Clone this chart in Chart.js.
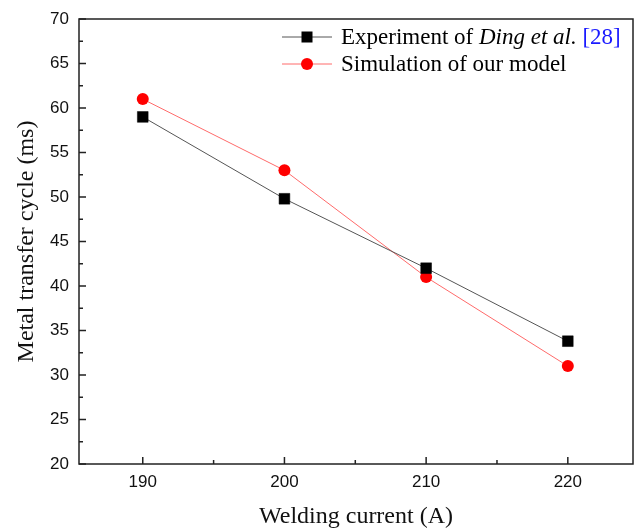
<!DOCTYPE html>
<html>
<head>
<meta charset="utf-8">
<script src="https://cdn.jsdelivr.net/npm/chart.js@4"></script>
<style>
  html, body { margin: 0; padding: 0; background: #fff; overflow: hidden; }
  #wrap { width: 636px; height: 531px; }
</style>
</head>
<body>
<div id="wrap"><canvas id="chart"></canvas></div>
<script>
// data
const currents = [190, 200, 210, 220];
const experiment = [59, 49.8, 42, 33.8];
const simulation = [61, 53, 41, 31];
const xTicks = [190, 200, 210, 220];
const yTicks = [20, 25, 30, 35, 40, 45, 50, 55, 60, 65, 70];

const serif = '"Liberation Serif", "Times New Roman", serif';
const sans = '"Liberation Sans", Arial, sans-serif';

function toPoints(ys){
    return currents.map((x, i) => ({x: x, y: ys[i]}));
}

//frame + inward ticks
const framePlugin = {
    id: 'frame',
    afterDraw(chart){
        const c = chart.ctx;
        const a = chart.chartArea;
        const xs = chart.scales.x;
        const ys = chart.scales.y;
        c.save();
        c.strokeStyle = '#222';
        c.lineWidth = 1.5;
        c.strokeRect(a.left, a.top, a.right - a.left, a.bottom - a.top);
        c.beginPath();
        for (let i = 0; i < xTicks.length; i++){
            let px = xs.getPixelForValue(xTicks[i]);
            c.moveTo(px, a.bottom); c.lineTo(px, a.bottom - 7);
            if (i < xTicks.length - 1){
                let mx = xs.getPixelForValue((xTicks[i] + xTicks[i+1]) / 2);
                c.moveTo(mx, a.bottom); c.lineTo(mx, a.bottom - 4);
            }
        }
        for (let i = 0; i < yTicks.length; i++){
            let py = ys.getPixelForValue(yTicks[i]);
            c.moveTo(a.left, py); c.lineTo(a.left + 7, py);
            if (i < yTicks.length - 1){
                let my = ys.getPixelForValue((yTicks[i] + yTicks[i+1]) / 2);
                c.moveTo(a.left, my); c.lineTo(a.left + 4, my);
            }
        }
        c.stroke();
        c.restore();
    }
};

//legend with mixed styles
const legendPlugin = {
    id: 'myLegend',
    afterDraw(chart){
        const c = chart.ctx;
        const rows = [
            {ds: 0, y: 37, parts: [
                {t: 'Experiment of ', style: '', color: '#000'},
                {t: 'Ding et al.', style: 'italic ', color: '#000'},
                {t: ' [28]', style: '', color: '#1a1aff'}
            ]},
            {ds: 1, y: 64, parts: [
                {t: 'Simulation of our model', style: '', color: '#000'}
            ]}
        ];
        c.save();
        rows.forEach(row => {
            const d = chart.data.datasets[row.ds];
            c.strokeStyle = d.borderColor;
            c.lineWidth = 1;
            c.beginPath();
            c.moveTo(282, row.y); c.lineTo(332, row.y);
            c.stroke();
            c.fillStyle = d.pointBackgroundColor;
            if (d.pointStyle === 'rect'){
                c.fillRect(301.5, row.y - 5.5, 11, 11);
            } else {
                c.beginPath();
                c.arc(307, row.y, 6, 0, Math.PI * 2);
                c.fill();
            }
            let x = 341;
            c.textBaseline = 'middle';
            row.parts.forEach(p => {
                c.font = p.style + '23px ' + serif;
                c.fillStyle = p.color;
                c.fillText(p.t, x, row.y + 1);
                x += c.measureText(p.t).width;
            });
        });
        c.restore();
    }
};

var ctx = document.getElementById('chart').getContext('2d');

var chart = new Chart(ctx, {
    type: 'line',
    data: {
        datasets: [{
            label: 'Experiment of Ding et al. [28]',
            data: toPoints(experiment),
            borderColor: '#555',
            borderWidth: 1,
            pointStyle: 'rect',
            pointRadius: 7.6,
            pointBackgroundColor: '#000',
            pointBorderColor: '#000',
            pointBorderWidth: 0.5,
            tension: 0
        }, {
            label: 'Simulation of our model',
            data: toPoints(simulation),
            borderColor: '#ff6a6a',
            borderWidth: 1,
            pointStyle: 'circle',
            pointRadius: 6,
            pointBackgroundColor: '#ff0000',
            pointBorderColor: '#ff0000',
            pointBorderWidth: 0,
            tension: 0
        }]
    },
    options: {
        responsive: true,
        maintainAspectRatio: false,
        animation: false,
        layout: { autoPadding: false, padding: { top: 19, right: 3, left: 0, bottom: 0 } },
        plugins: {
            legend: { display: false },
            tooltip: { enabled: false }
        },
        scales: {
            x: {
                type: 'linear',
                min: 185.5,
                max: 224.6,
                afterBuildTicks: (s) => { s.ticks = xTicks.map(v => ({value: v})); },
                afterFit: (s) => { s.height = 67; s.paddingLeft = 0; s.paddingRight = 0; },
                grid: { display: false, drawTicks: false },
                border: { display: false },
                ticks: {
                    padding: 8,
                    color: '#111',
                    font: { family: sans, size: 17 }
                },
                title: {
                    display: true,
                    text: 'Welding current (A)',
                    color: '#111',
                    font: { family: serif, size: 24 },
                    padding: { top: 0, bottom: 0 }
                }
            },
            y: {
                min: 20,
                max: 70,
                afterBuildTicks: (s) => { s.ticks = yTicks.map(v => ({value: v})); },
                afterFit: (s) => { s.width = 79; s.paddingTop = 0; s.paddingBottom = 0; },
                grid: { display: false, drawTicks: false },
                border: { display: false },
                ticks: {
                    padding: 10,
                    color: '#111',
                    font: { family: sans, size: 17 }
                },
                title: {
                    display: true,
                    text: 'Metal transfer cycle (ms)',
                    color: '#111',
                    font: { family: serif, size: 24 },
                    padding: { top: 12, bottom: 0 }
                }
            }
        }
    },
    plugins: [framePlugin, legendPlugin]
});
</script>
</body>
</html>
